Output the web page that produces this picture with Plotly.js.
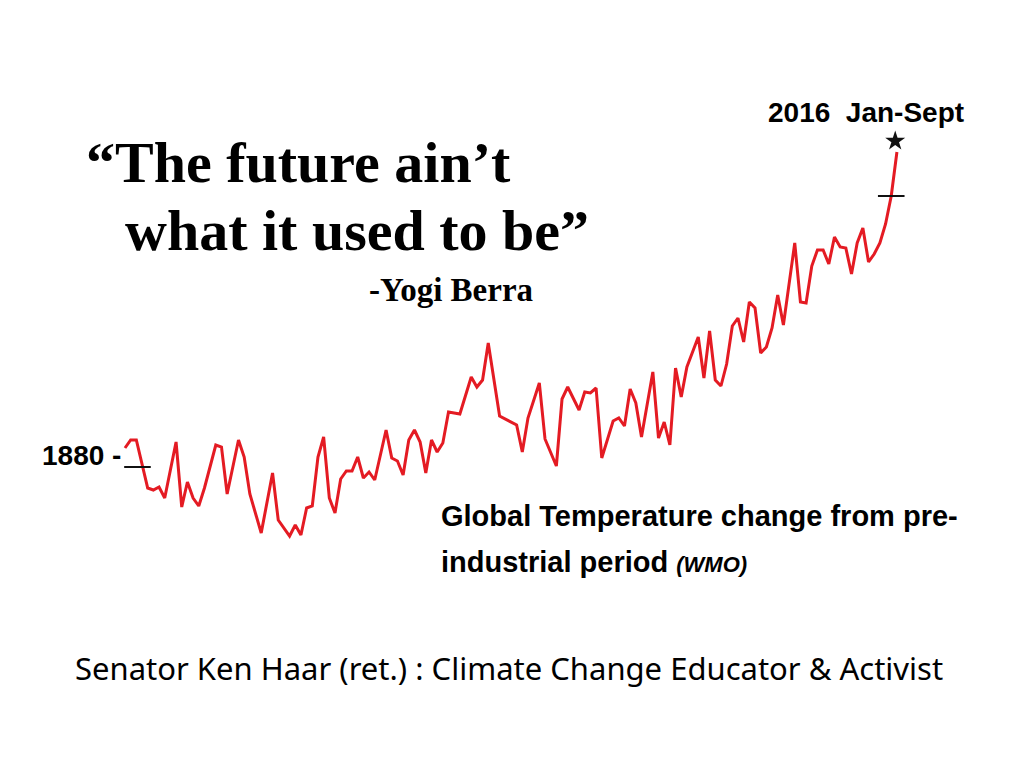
<!DOCTYPE html>
<html>
<head>
<meta charset="utf-8">
<script src="https://cdn.plot.ly/plotly-3.0.1.min.js"></script>
<style>html,body{margin:0;padding:0;background:#fff;}#chart{width:1024px;height:768px;}</style>
</head>
<body>
<div id="chart"></div>
<script>
// Global temperature change from pre-industrial period, °C
const years = [1880,1881,1882,1884,1885,1886,1887,1889,1890,1891,1892,1893,1894,1896,1897,1898,1900,1901,1902,1904,
  1906,1907,1909,1910,1911,1912,1913,1914,1915,1916,1917,1918,1919,1920,1921,1922,1923,1924,1926,1927,
  1928,1929,1930,1931,1932,1933,1934,1935,1936,1937,1939,1941,1942,1943,1944,1946,1949,1950,1951,1953,
  1954,1956,1957,1958,1960,1961,1962,1963,1964,1966,1967,1968,1969,1970,1971,1973,1974,1975,1976,1977,
  1978,1979,1981,1982,1983,1984,1985,1986,1987,1988,1989,1990,1991,1992,1993,1994,1995,1996,1998,1999,
  2000,2001,2002,2003,2004,2005,2006,2007,2008,2009,2010,2011,2012,2013,2014,2015,2016];
const anomalies = [0.028,0.060,0.060,-0.132,-0.140,-0.128,-0.172,0.052,-0.208,-0.108,-0.172,-0.204,-0.132,0.040,0.032,-0.156,0.060,-0.008,-0.156,-0.312,
  -0.072,-0.260,-0.324,-0.280,-0.320,-0.212,-0.204,-0.008,0.072,-0.172,-0.232,-0.096,-0.064,-0.064,-0.008,-0.092,-0.068,-0.100,0.100,-0.012,
  -0.024,-0.080,0.060,0.100,0.052,-0.072,0.060,0.012,0.048,0.172,0.164,0.312,0.272,0.300,0.448,0.156,0.120,0.012,0.148,0.288,
  0.064,-0.044,0.224,0.272,0.180,0.252,0.248,0.268,-0.012,0.136,0.148,0.116,0.264,0.208,0.072,0.332,0.068,0.132,0.040,0.348,
  0.232,0.352,0.472,0.308,0.496,0.300,0.276,0.364,0.516,0.548,0.452,0.612,0.588,0.408,0.432,0.508,0.640,0.520,0.848,0.612,
  0.608,0.756,0.820,0.820,0.764,0.872,0.832,0.828,0.724,0.848,0.908,0.772,0.804,0.848,0.924,1.036,1.212];

// tick-like dash marks and the 2016 Jan-Sept star
const dashYears = [1882.2, 2015];
const dashValues = [-0.048, 1.036];
const starYears = [2015.7];
const starValues = [1.256];

// text
const quoteLine1 = "\u201CThe future ain\u2019t";
const quoteLine2 = "what it used to be\u201D";
const quoteAuthor = "-Yogi Berra";
const endLabel = "2016\u00A0 Jan-Sept";
const startLabel = "1880 -";
const captionLine1 = "Global Temperature change from pre-";
const captionLine2 = "industrial period <i><span style=\"font-size:22px\">(WMO)</span></i>";
const footer = "Senator Ken Haar (ret.) : Climate Change Educator &amp; Activist";

const W = 1024, H = 768;
const px = x => x / W;
const py = y => 1 - y / H;

const traces = [
  {x: years, y: anomalies, type: 'scatter', mode: 'lines',
   line: {color: '#e41b23', width: 3}, hoverinfo: 'skip'},
  {x: dashYears, y: dashValues, type: 'scatter', mode: 'markers',
   marker: {symbol: 'line-ew', size: 19, color: '#111', line: {color: '#111', width: 2}}, hoverinfo: 'skip'},
  {x: starYears, y: starValues, type: 'scatter', mode: 'markers',
   marker: {symbol: 'star', size: 15, color: '#111', line: {width: 0}}, hoverinfo: 'skip'}
];

const serif = 'Liberation Serif, Times New Roman, serif';
const sans = 'Liberation Sans, Arial, sans-serif';

const ann = (text, x, y, font, xanchor) => ({
  text: text, x: px(x), y: py(y), xref: 'paper', yref: 'paper',
  xanchor: xanchor || 'left', yanchor: 'middle', showarrow: false, font: font
});

const layout = {
  width: W, height: H,
  margin: {l: 0, r: 0, t: 0, b: 0, pad: 0},
  paper_bgcolor: '#ffffff', plot_bgcolor: '#ffffff',
  showlegend: false,
  xaxis: {range: [1857.98, 2038.39], visible: false, fixedrange: true},
  yaxis: {range: [-1.252, 1.82], visible: false, fixedrange: true},
  annotations: [
    ann('<b>' + quoteLine1 + '</b>', 84, 162, {family: serif, size: 58, color: '#000'}),
    ann('<b>' + quoteLine2 + '</b>', 123, 230, {family: serif, size: 58, color: '#000'}),
    ann('<b>' + quoteAuthor + '</b>', 367, 290, {family: serif, size: 33, color: '#000'}),
    ann('<b>' + endLabel + '</b>', 766, 113, {family: sans, size: 28, color: '#000'}),
    ann('<b>' + startLabel + '</b>', 40, 455, {family: sans, size: 28, color: '#000'}),
    ann('<b>' + captionLine1 + '</b>', 439, 516, {family: sans, size: 29, color: '#000'}),
    ann('<b>' + captionLine2 + '</b>', 439, 562, {family: sans, size: 29, color: '#000'}),
    ann(footer, 509, 668, {family: 'Noto Sans, sans-serif', size: 31, color: '#000'}, 'center')
  ]
};

Plotly.newPlot('chart', traces, layout, {staticPlot: true, displayModeBar: false});
</script>
</body>
</html>
